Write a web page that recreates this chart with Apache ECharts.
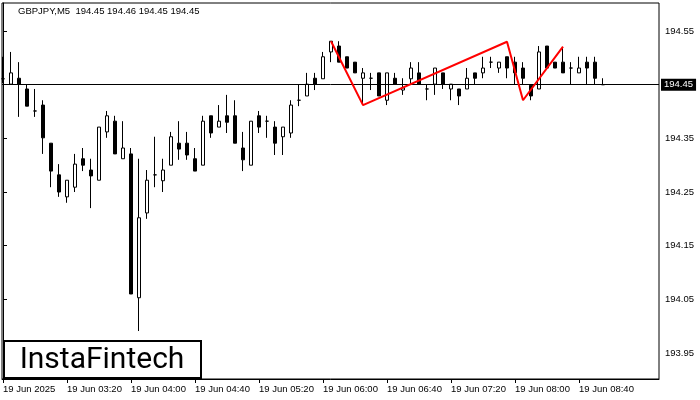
<!DOCTYPE html>
<html>
<head>
<meta charset="utf-8">
<script src="https://cdn.jsdelivr.net/npm/echarts@6/dist/echarts.min.js"></script>
<style>html,body{margin:0;padding:0;background:#fff;}#c{width:700px;height:400px;}</style>
</head>
<body>
<div id="c"></div>
<script>
// 5-minute bars from 19 Jun 02:40, index 0..75
const opens  = [194.461,194.451,194.462,194.442,194.401,194.412,194.341,194.282,194.241,194.259,194.312,194.291,194.272,194.362,194.382,194.312,194.321,194.053,194.211,194.282,194.271,194.300,194.341,194.341,194.312,194.300,194.392,194.371,194.392,194.392,194.332,194.300,194.392,194.382,194.371,194.353,194.360,194.421,194.429,194.462,194.461,194.511,194.522,194.502,194.492,194.462,194.462,194.472,194.421,194.462,194.440,194.461,194.472,194.442,194.451,194.472,194.442,194.442,194.442,194.472,194.472,194.492,194.481,194.502,194.492,194.481,194.449,194.442,194.522,194.492,194.492,194.481,194.472,194.492,194.492,194.450];
const closes = [194.461,194.472,194.451,194.410,194.401,194.351,194.289,194.250,194.272,194.302,194.300,194.280,194.371,194.392,194.321,194.332,194.060,194.202,194.272,194.282,194.291,194.353,194.330,194.319,194.289,194.382,194.360,194.382,194.380,194.341,194.310,194.382,194.371,194.382,194.341,194.371,194.412,194.421,194.451,194.451,194.502,194.531,194.492,194.481,194.472,194.472,194.462,194.429,194.472,194.451,194.444,194.481,194.451,194.442,194.481,194.451,194.451,194.429,194.462,194.462,194.481,194.492,194.492,194.481,194.472,194.462,194.429,194.511,194.481,194.481,194.472,194.481,194.481,194.481,194.462,194.450];
const lows   = [194.453,194.451,194.390,194.410,194.390,194.321,194.259,194.241,194.230,194.250,194.289,194.220,194.272,194.351,194.321,194.312,194.060,193.991,194.200,194.259,194.250,194.300,194.310,194.310,194.289,194.300,194.351,194.371,194.360,194.341,194.289,194.300,194.360,194.351,194.319,194.319,194.351,194.410,194.429,194.440,194.461,194.492,194.492,194.481,194.472,194.412,194.440,194.429,194.412,194.451,194.431,194.451,194.451,194.421,194.431,194.442,194.421,194.412,194.442,194.451,194.462,194.481,194.472,194.462,194.451,194.451,194.421,194.442,194.481,194.481,194.472,194.451,194.472,194.451,194.451,194.450];
const highs  = [194.502,194.511,194.492,194.451,194.442,194.421,194.341,194.302,194.272,194.321,194.332,194.312,194.371,194.401,194.392,194.382,194.332,194.312,194.291,194.353,194.312,194.362,194.382,194.362,194.332,194.392,194.392,194.412,194.431,194.421,194.362,194.382,194.401,194.392,194.382,194.371,194.421,194.451,194.472,194.472,194.511,194.531,194.531,194.502,194.492,194.481,194.472,194.472,194.472,194.472,194.462,194.492,194.492,194.451,194.481,194.472,194.451,194.442,194.481,194.472,194.502,194.502,194.492,194.502,194.502,194.492,194.449,194.522,194.522,194.492,194.520,194.492,194.502,194.502,194.502,194.462];

// pattern line (bar index, price)
const patternIdx    = [41, 45, 63, 65, 70];
const patternPrices = [194.531, 194.412, 194.530, 194.421, 194.521];

const currentPrice = 194.45;
const titleText = 'GBPJPY,M5  194.45 194.46 194.45 194.45';

const xTickIdx    = [0, 8, 16, 24, 32, 40, 48, 56, 64, 72];
const xTickLabels = ['19 Jun 2025','19 Jun 03:20','19 Jun 04:00','19 Jun 04:40','19 Jun 05:20','19 Jun 06:00','19 Jun 06:40','19 Jun 07:20','19 Jun 08:00','19 Jun 08:40'];
const yTicks = [193.95, 194.05, 194.15, 194.25, 194.35, 194.55];

const candleData = opens.map((o, i) => [i, o, closes[i], lows[i], highs[i]]);
const patternData = patternIdx.map((x, i) => [x, patternPrices[i]]);

const FONT = 'Liberation Sans';
const chart = echarts.init(document.getElementById('c'), null, {renderer: 'canvas'});
chart.setOption({
  animation: false,
  backgroundColor: '#fff',
  title: {
    text: titleText, left: 18, top: 6, padding: 0,
    textStyle: {fontSize: 9.5, fontWeight: 'normal', color: '#000', fontFamily: FONT}
  },
  grid: {left: 2, right: 41, top: 3, bottom: 21, show: true, borderColor: '#000', borderWidth: 1, backgroundColor: 'transparent'},
  xAxis: {
    type: 'value', min: -0.125, max: 82,
    axisLine: {show: true, lineStyle: {color: '#000', width: 1}},
    axisTick: {show: true, length: 4, lineStyle: {color: '#000'}, customValues: xTickIdx},
    axisLabel: {
      show: true, customValues: xTickIdx, align: 'left', margin: 5,
      fontSize: 9.5, color: '#000', fontFamily: FONT,
      formatter: v => { const k = xTickIdx.indexOf(v); return k >= 0 ? xTickLabels[k] : ''; }
    },
    splitLine: {show: false}
  },
  yAxis: {
    type: 'value', position: 'right', min: 193.9016, max: 194.6022, scale: true,
    axisLine: {show: true, lineStyle: {color: '#000', width: 1}},
    axisTick: {show: true, length: 4, inside: false, lineStyle: {color: '#000'}, customValues: yTicks},
    axisLabel: {
      show: true, customValues: yTicks, margin: 6,
      fontSize: 9.5, color: '#000', fontFamily: FONT,
      formatter: v => v.toFixed(2)
    },
    splitLine: {show: false}
  },
  series: [
    {
      type: 'candlestick', name: 'GBPJPY',
      data: candleData,
      encode: {x: 0, y: [1, 2, 3, 4]},
      barWidth: 4,
      clip: true,
      z: 3,
      itemStyle: {color: '#ffffff', color0: '#000000', borderColor: '#000000', borderColor0: '#000000', borderColorDoji: '#000000', borderWidth: 1},
      markLine: {
        silent: true, symbol: ['none', 'none'], animation: false,
        lineStyle: {color: '#000', width: 1, type: 'solid'},
        label: {
          show: true, position: 'end', distance: 2,
          formatter: () => currentPrice.toFixed(2),
          color: '#fff', backgroundColor: '#000', padding: [1, 3, 1, 3],
          fontSize: 9.5, fontFamily: FONT
        },
        data: [{yAxis: currentPrice}]
      }
    },
    {
      type: 'line', name: 'pattern', data: patternData,
      showSymbol: false, symbol: 'none', z: 5,
      lineStyle: {color: '#ff0000', width: 2}
    }
  ],
  graphic: [
    {type: 'rect', z: 100, shape: {x: 4, y: 341, width: 197, height: 37}, style: {fill: '#fff', stroke: '#000', lineWidth: 2}},
    {type: 'text', z: 101, style: {x: 102, y: 360, text: 'InstaFintech', font: '30px Roboto', fill: '#000', textAlign: 'center', textVerticalAlign: 'middle'}}
  ]
});
</script>
</body>
</html>
